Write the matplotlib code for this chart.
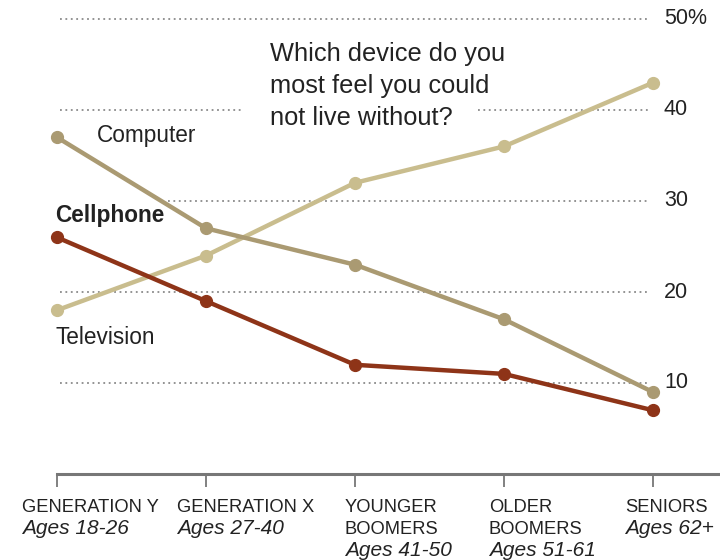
import matplotlib
matplotlib.use("Agg")
import matplotlib.pyplot as plt
import matplotlib.transforms as mtransforms

plt.rcParams['font.family'] = ['Liberation Sans', 'DejaVu Sans']

groups = ["GENERATION Y", "GENERATION X", "YOUNGER\nBOOMERS", "OLDER\nBOOMERS", "SENIORS"]
ages = ["Ages 18-26", "Ages 27-40", "Ages 41-50", "Ages 51-61", "Ages 62+"]
computer = [37, 27, 23, 17, 9]
television = [18, 24, 32, 36, 43]
cellphone = [26, 19, 12, 11, 7]
yticks = [10, 20, 30, 40, 50]
ytick_labels = ["10", "20", "30", "40", "50%"]

W, H = 720, 560
fig = plt.figure(figsize=(7.2, 5.6), dpi=100)
x0px, x4px, xrpx = 57, 653, 718
ppu = (x4px - x0px) / 4.0
y0px, y50px = 474, 19
ppy = (y0px - y50px) / 50.0
ytop = 52
xr = (xrpx - x0px) / ppu
ax = fig.add_axes([x0px / W, (H - y0px) / H, (xrpx - x0px) / W, ytop * ppy / H])
ax.set_xlim(0, xr)
ax.set_ylim(0, ytop)
for s in ["top", "right", "left"]:
    ax.spines[s].set_visible(False)
ax.spines["bottom"].set_color("#777777")
ax.spines["bottom"].set_linewidth(2.2)
ax.set_yticks([])
ax.set_xticks(range(len(groups)))
ax.set_xticklabels([])
ax.tick_params(axis="x", length=9, width=1.3, color="#777777")

def px2x(p):
    return (p - x0px) / ppu

def px2y(p):
    return (y0px - p) / ppy

# gridlines (dotted)
grid_segments = {
    10: [(60, 650)],
    20: [(60, 650)],
    30: [(168, 650)],
    40: [(60, 243), (478, 650)],
    50: [(60, 650)],
}
for yv, segs in grid_segments.items():
    for a, b in segs:
        ax.plot([px2x(a), px2x(b)], [yv, yv], color="#8a8a8a", lw=1.3,
                linestyle=(0, (1, 2)), zorder=1)

for yv, lab in zip(yticks, ytick_labels):
    ax.text(px2x(664), yv, lab, fontsize=15.5, color="#222222",
            ha="left", va="center")

xs = list(range(len(groups)))
c_comp = "#aa9a72"
c_tv = "#c9bd8e"
c_cell = "#8e3418"
ax.plot(xs, television, color=c_tv, lw=3.2, marker="o", ms=8.5, zorder=3, clip_on=False)
ax.plot(xs, computer, color=c_comp, lw=3.2, marker="o", ms=8.5, zorder=4, clip_on=False)
ax.plot(xs, cellphone, color=c_cell, lw=3.2, marker="o", ms=8.5, zorder=5, clip_on=False)

ax.text(px2x(97), px2y(136), "Computer", fontsize=16.3, color="#222222",
        ha="left", va="center")
ax.text(px2x(55), px2y(216), "Cellphone", fontsize=16.3, fontweight="bold",
        color="#222222", ha="left", va="center")
ax.text(px2x(55), px2y(338), "Television", fontsize=16.3, color="#222222",
        ha="left", va="center")

ax.text(px2x(270), px2y(42), "Which device do you\nmost feel you could\nnot live without?",
        fontsize=18.3, color="#222222", ha="left", va="top", linespacing=1.42)

# category labels under the axis
offsets = [-35, -29, -10, -15, -28]
for i, (g, a, off) in enumerate(zip(groups, ages, offsets)):
    nlines = g.count("\n") + 1
    tr = mtransforms.offset_copy(ax.transData, fig=fig, x=off, y=-25, units="dots")
    ax.text(i, 0, g, transform=tr, fontsize=13.2, color="#222222",
            ha="left", va="top", linespacing=1.38, clip_on=False)
    tr2 = mtransforms.offset_copy(ax.transData, fig=fig, x=off,
                                  y=-24 - 21.5 * nlines, units="dots")
    ax.text(i, 0, a, transform=tr2, fontsize=15, color="#222222",
            style="italic", ha="left", va="top", clip_on=False)

fig.savefig("out.png", dpi=100, facecolor="white")
